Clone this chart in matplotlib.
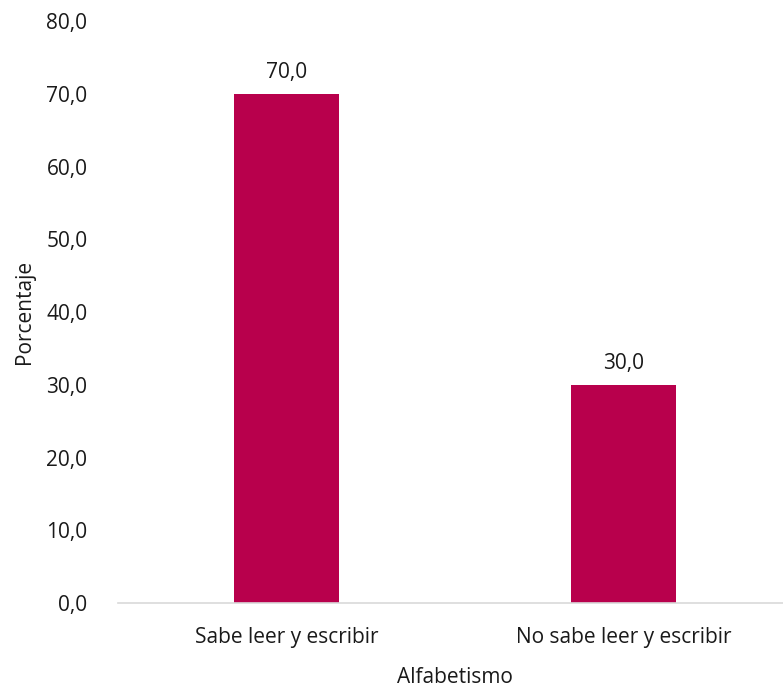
import matplotlib
matplotlib.use("Agg")
import matplotlib.pyplot as plt

# data
categories = ["Sabe leer y escribir", "No sabe leer y escribir"]
values = [70.0, 30.0]
y_ticks = [0, 10, 20, 30, 40, 50, 60, 70, 80]

plt.rcParams['font.family'] = ['Open Sans', 'DejaVu Sans']
fs = 15

fig = plt.figure(figsize=(7.83, 6.89), dpi=100)
ax = fig.add_axes([0.1507, 0.1248, 0.8608, 0.8447])

x = range(len(categories))
bars = ax.bar(x, values, width=0.31, color="#b8004c")

for b, v in zip(bars, values):
    ax.annotate(("%.1f" % v).replace(".", ","),
                (b.get_x() + b.get_width() / 2, v),
                xytext=(0, 8), textcoords="offset points",
                ha="center", va="bottom", fontsize=fs, color="#1a1a1a")

ax.set_xlim(-0.5, len(categories) - 0.5)
ax.set_ylim(0, 80)
ax.set_yticks(y_ticks)
ax.set_yticklabels([("%.1f" % t).replace(".", ",") for t in y_ticks])
ax.set_xticks(list(x))
ax.set_xticklabels(categories)
ax.tick_params(axis="both", length=0, labelsize=fs, colors="#1a1a1a")
ax.tick_params(axis="x", pad=17)
ax.tick_params(axis="y", pad=22)

for side in ["top", "right", "left"]:
    ax.spines[side].set_visible(False)
ax.spines["bottom"].set_color("#d9d9d9")
ax.spines["bottom"].set_linewidth(1.2)

ax.set_ylabel("Porcentaje", fontsize=fs, color="#1a1a1a", labelpad=8)
ax.set_xlabel("Alfabetismo", fontsize=fs, color="#1a1a1a", labelpad=14)

plt.savefig("out.png", dpi=100)
